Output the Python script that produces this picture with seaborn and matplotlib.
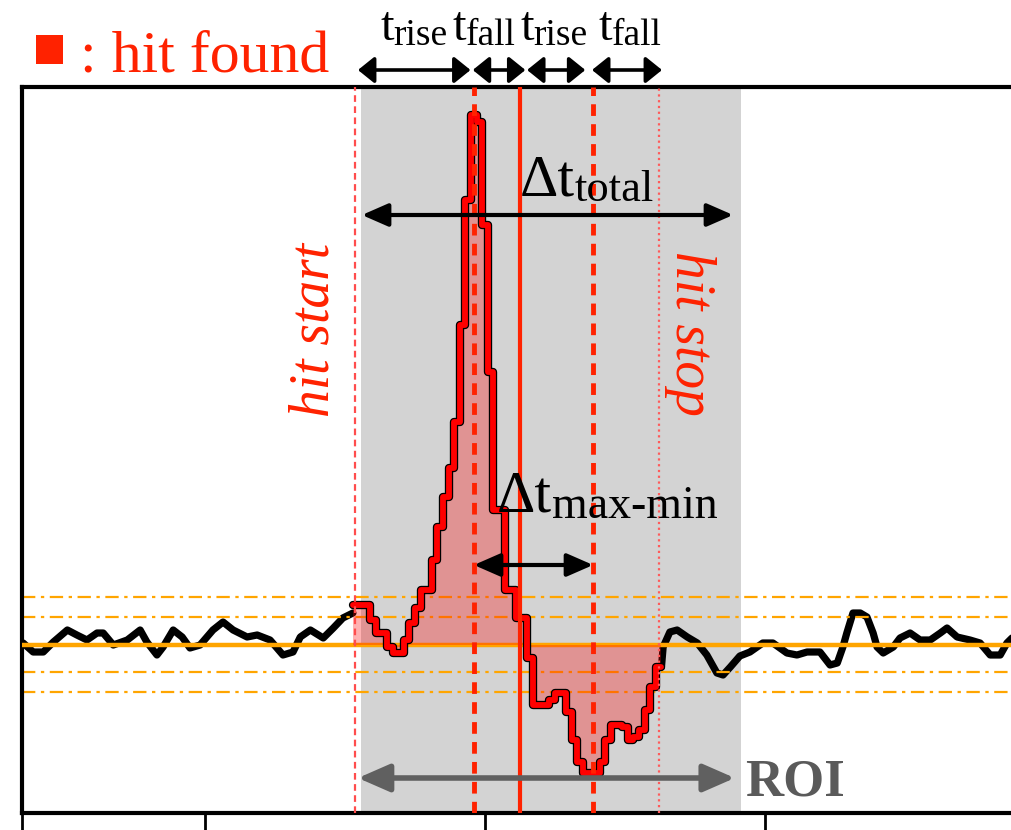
import numpy as np
import pandas as pd
import matplotlib
matplotlib.use("Agg")
import matplotlib.pyplot as plt
import seaborn as sns
from matplotlib.patches import Rectangle

# ---------------- data (time in samples, amplitude in ADC-like units) ----------------
noise_left_t = [-32.5, -30.7, -28.9, -27.1, -24.6, -22.9, -21.1, -19.3, -18.2, -16.4,
                -13.9, -11.6, -10.4, -8.6, -7.5, -5.7, -4.1, -2.7, -0.9, 1.4,
                3.2, 5.0, 7.5, 9.3, 11.6, 13.9, 15.7, 17.0, 18.8, 21.1,
                22.9, 24.6, 26.4]
noise_left_y = [2, -7, -7, 3, 15, 10, 5, 12, 12, 0,
                5, 15, 3, -10, -2, 15, 8, -3, 0, 15,
                23, 15, 8, 10, 5, -10, -7, 8, 15, 7,
                17, 27, 32]

hit_first_sample = 27
hit_y = [40, 40, 40, 25, 12, 12, -2, -8, -8, 5,
         22, 37, 55, 55, 85, 118, 148, 177, 223, 320,
         445, 530, 523, 420, 273, 135, 135, 55, 55, 27,
         27, -13, -60, -60, -60, -55, -48, -48, -67, -95,
         -117, -128, -128, -128, -117, -95, -80, -80, -82, -95,
         -92, -85, -65, -42, -22]

noise_right_t = [81.8, 83.0, 84.3, 86.1, 87.9, 89.6, 91.4, 92.5, 93.8, 95.5,
                 97.3, 99.6, 101.4, 103.9, 105.7, 107.5, 109.8, 111.6, 112.9, 113.9,
                 114.6, 115.7, 117.0, 118.2, 119.3, 120.0, 121.1, 122.9, 124.1, 125.9,
                 127.7, 129.5, 131.3, 132.5, 134.3, 136.6, 138.4, 140.2, 142.0, 143.2,
                 144.1]
noise_right_y = [-2, 13, 15, 8, 2, -10, -28, -30, -22, -11,
                 -7, 2, 2, -8, -10, -7, -7, -20, -18, -2,
                 12, 32, 32, 28, 12, -2, -8, -2, 7, 12,
                 5, 5, 12, 17, 8, 5, 2, -10, -10, 2,
                 7]

baseline = 0
thresholds = [48, 28, -27, -47]

hit_start_t = 26.8
hit_stop_t = 81.1
peak_t = 48.0
zero_cross_t = 56.25
min_t = 69.3
roi_start, roi_stop = 27.9, 95.7
total_arrow = (28.0, 94.3)
roi_arrow = (27.3, 94.6)
top_arrows = [(27.3, 47.4), (47.8, 57.2), (57.5, 67.9), (69.1, 81.6)]

tick_positions = [0, 50, 100]
x_range = (-32.7, 144.1)
y_range = (-168, 558)

# ---------------- style ----------------
sns.set_theme(style="white")
plt.rcParams["font.family"] = ["Liberation Serif", "DejaVu Serif"]

RED = "#ff2200"
ORANGE = "#ffa500"

fig = plt.figure(figsize=(10.12, 8.3), dpi=100)
ax = fig.add_axes([22 / 1012, 17 / 830, 990 / 1012, 726 / 830])
ax.set_xlim(x_range)
ax.set_ylim(y_range)

# ROI shading
ax.axvspan(roi_start, roi_stop, color="#d3d3d3", lw=0, zorder=0)

# noise traces
hit_t = np.arange(hit_first_sample, hit_first_sample + len(hit_y))
edges = np.append(hit_t - 0.5, hit_t[-1] + 0.5)
step_y = np.append(hit_y, hit_y[-1])

left_df = pd.DataFrame({"t": noise_left_t, "y": noise_left_y})
right_df = pd.DataFrame({"t": np.append(edges[-1], noise_right_t),
                         "y": np.append(hit_y[-1], noise_right_y)})
for df in (left_df, right_df):
    sns.lineplot(data=df, x="t", y="y", ax=ax, color="black", lw=5.2,
                 estimator=None, sort=False, zorder=2,
                 solid_joinstyle="round", solid_capstyle="round")

# thresholds & baseline
for th in thresholds:
    ax.axhline(th, color=ORANGE, lw=1.6, ls=(0, (6, 2.5, 1.5, 2.5)), zorder=2.5)
ax.axhline(baseline, color=ORANGE, lw=3.2, zorder=2.6)

# hit fill + stepped trace
ax.fill_between(edges, baseline, step_y, step="post", color="red", alpha=0.3,
                lw=0, zorder=3)
hit_df = pd.DataFrame({"t": edges, "y": step_y})
sns.lineplot(data=hit_df, x="t", y="y", ax=ax, color="black", lw=6,
             drawstyle="steps-post", estimator=None, sort=False, zorder=3.5)
sns.lineplot(data=hit_df, x="t", y="y", ax=ax, color="red", lw=4.2,
             drawstyle="steps-post", estimator=None, sort=False, zorder=3.6)

# vertical markers
ax.axvline(hit_start_t, color="#ff4d4d", lw=1.6, ls=(0, (3, 2)), zorder=5)
ax.axvline(peak_t, color=RED, lw=3.5, ls=(0, (2.4, 1.7)), zorder=5)
ax.axvline(zero_cross_t, color=RED, lw=3.0, zorder=5)
ax.axvline(min_t, color=RED, lw=3.5, ls=(0, (2.4, 1.7)), zorder=5)
ax.axvline(hit_stop_t, color="#ff5a5a", lw=1.6, ls=(0, (1, 1.6)), zorder=5)

# arrows
def darrow(x0, x1, y, color="black", lw=3, ms=20, hl=0.8, hw=0.35):
    ax.annotate("", xy=(x1, y), xytext=(x0, y), xycoords="data",
                annotation_clip=False, zorder=6,
                arrowprops=dict(arrowstyle=f"<|-|>,head_length={hl},head_width={hw}",
                                color=color, lw=lw, mutation_scale=ms,
                                shrinkA=0, shrinkB=0))

top_y = 575
for a0, a1 in top_arrows:
    darrow(a0, a1, top_y, lw=2.6, ms=16, hl=0.62, hw=0.5)
darrow(total_arrow[0], total_arrow[1], 430)
darrow(peak_t, min_t, 80)
darrow(roi_arrow[0], roi_arrow[1], -133, color="#606060", lw=4, ms=24)


def sub_text(x, y, main, sub, size, subsize, dy=-4, color="black"):
    t1 = ax.text(x, y, main, fontsize=size, color=color, ha="left",
                 va="baseline", zorder=7, clip_on=False)
    ax.annotate(sub, xy=(1, 0), xycoords=t1, xytext=(0, size * 0.217 + dy),
                textcoords="offset points", fontsize=subsize, color=color,
                ha="left", va="baseline", zorder=7, annotation_clip=False)


sub_text(31.25, 605, "t", "rise", 35, 27)
sub_text(44.1, 605, "t", "fall", 35, 27)
sub_text(56.25, 605, "t", "rise", 35, 27)
sub_text(70.2, 605, "t", "fall", 35, 27)
sub_text(56.25, 450, "\u0394t", "total", 43, 32)
sub_text(52.1, 133, "\u0394t", "max-min", 43, 33)

ax.text(96.4, -150, "ROI", fontsize=38, fontweight="bold", color="#5a5a5a",
        ha="left", va="baseline", zorder=7)
ax.text(19.6, 315, "hit start", fontsize=40, fontstyle="italic", color=RED,
        rotation=90, ha="center", va="center", zorder=7)
ax.text(86.6, 312, "hit stop", fontsize=40, fontstyle="italic", color=RED,
        rotation=270, ha="center", va="center", zorder=7)

# legend-like header
fig.patches.append(Rectangle((36 / 1012, 1 - 64 / 830), 27 / 1012, 29 / 830,
                             transform=fig.transFigure, color=RED, lw=0))
fig.text(80 / 1012, 1 - 72 / 830, ": hit found", fontsize=43, color=RED,
         ha="left", va="baseline")

# axes styling
for side in ("left", "top", "bottom"):
    ax.spines[side].set_visible(True)
    ax.spines[side].set_color("black")
    ax.spines[side].set_linewidth(3)
ax.spines["right"].set_visible(False)
ax.set_xticks([x_range[0]] + tick_positions)
ax.set_xticklabels([])
ax.set_yticks([])
ax.tick_params(axis="x", direction="out", length=12, width=2, color="black",
               bottom=True)
ax.set_xlabel("")
ax.set_ylabel("")

fig.savefig("out.png", dpi=100)
